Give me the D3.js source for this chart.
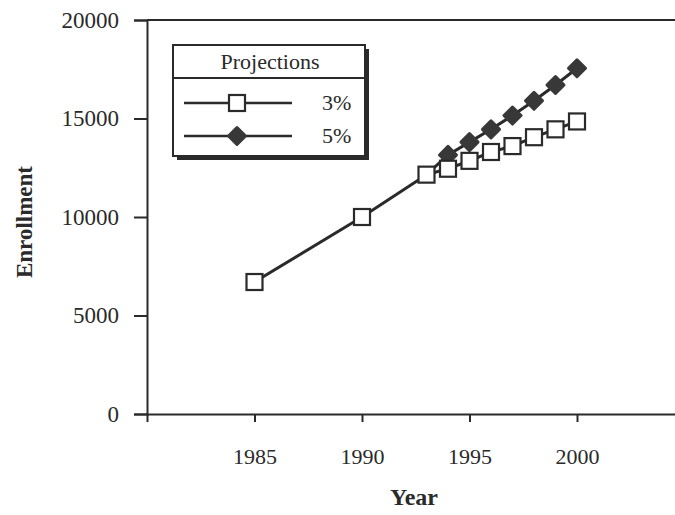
<!DOCTYPE html>
<html>
<head>
<meta charset="utf-8">
<script src="https://cdn.jsdelivr.net/npm/d3@7"></script>
<style>
  html, body { margin: 0; padding: 0; background: #ffffff; }
  svg { display: block; }
  text { font-family: "Liberation Serif", "DejaVu Serif", serif; fill: #2a2a2a; }
</style>
</head>
<body>
<svg id="chart" width="675" height="515"></svg>
<script>
// ---- data ----
const histYears = [1985, 1990, 1993];
const histValues = [6700, 10000, 12150];
const projYears = [1993, 1994, 1995, 1996, 1997, 1998, 1999, 2000];
const proj3 = [12150, 12450, 12850, 13300, 13600, 14050, 14450, 14850];
const proj5 = [12150, 13150, 13800, 14450, 15150, 15900, 16700, 17550];
const xTicks = [1985, 1990, 1995, 2000];
const yTicks = [0, 5000, 10000, 15000, 20000];
const legendTitle = "Projections";
const seriesNames = ["3%", "5%"];

// ---- layout ----
const svg = d3.select("#chart");
const ink = "#2a2a2a";
const x = d3.scaleLinear().domain([1980, 2005]).range([147, 684.5]);
const y = d3.scaleLinear().domain([0, 20000]).range([414, 20]);

// frame top line
svg.append("line")
  .attr("x1", x(1980)).attr("x2", 675)
  .attr("y1", y(20000)).attr("y2", y(20000))
  .attr("stroke", ink).attr("stroke-width", 2);

// y axis
const yAxis = svg.append("g")
  .attr("transform", `translate(${x(1980)},0)`)
  .call(d3.axisLeft(y).tickValues(yTicks).tickSize(13).tickPadding(15).tickFormat(d3.format("d")));
yAxis.select(".domain").attr("stroke", ink).attr("stroke-width", 2);
yAxis.selectAll(".tick line").attr("stroke", ink).attr("stroke-width", 2);
yAxis.selectAll(".tick text")
  .style("font-family", "Liberation Serif").style("font-size", "23px").attr("fill", ink);

// x axis
const xAxis = svg.append("g")
  .attr("transform", `translate(0,${y(0)})`)
  .call(d3.axisBottom(x).tickValues(xTicks).tickSize(8).tickPadding(26).tickFormat(d3.format("d")));
xAxis.select(".domain").attr("stroke", ink).attr("stroke-width", 2);
xAxis.selectAll(".tick line").attr("stroke", ink).attr("stroke-width", 2);
xAxis.selectAll(".tick text")
  .style("font-family", "Liberation Serif").style("font-size", "22px").attr("fill", ink);

// axis titles
svg.append("text")
  .attr("transform", `translate(32,${(y(0) + y(20000)) / 2 + 5}) rotate(-90)`)
  .attr("text-anchor", "middle")
  .style("font-size", "23px").style("font-weight", "bold")
  .text("Enrollment");
svg.append("text")
  .attr("x", 414).attr("y", 505)
  .attr("text-anchor", "middle")
  .style("font-size", "24px").style("font-weight", "bold")
  .text("Year");

// ---- series ----
const line = d3.line().x(d => x(d[0])).y(d => y(d[1]));
const histPts = histYears.map((yr, i) => [yr, histValues[i]]);
const p3 = projYears.map((yr, i) => [yr, proj3[i]]);
const p5 = projYears.map((yr, i) => [yr, proj5[i]]);

const diamond = d3.symbol().type(d3.symbolDiamond2).size(185);

// 5% series (drawn underneath)
svg.append("path").attr("d", line(p5))
  .attr("fill", "none").attr("stroke", ink).attr("stroke-width", 3);
svg.selectAll(".dia").data(p5.slice(1)).enter().append("path")
  .attr("transform", d => `translate(${x(d[0])},${y(d[1])})`)
  .attr("d", diamond)
  .attr("fill", "#383838").attr("stroke", "#383838").attr("stroke-width", 3)
  .attr("stroke-linejoin", "round");

// history + 3% series
svg.append("path").attr("d", line(histPts))
  .attr("fill", "none").attr("stroke", ink).attr("stroke-width", 3);
svg.append("path").attr("d", line(p3))
  .attr("fill", "none").attr("stroke", ink).attr("stroke-width", 3);
const sq = 16;
svg.selectAll(".sq").data(histPts.concat(p3.slice(1))).enter().append("rect")
  .attr("x", d => x(d[0]) - sq / 2).attr("y", d => y(d[1]) - sq / 2)
  .attr("width", sq).attr("height", sq)
  .attr("fill", "#ffffff").attr("stroke", ink).attr("stroke-width", 2.2);

// ---- legend ----
const lg = svg.append("g");
const L = 173, T = 45, W = 192, H = 111;
// shadow
lg.append("rect").attr("x", L + 4).attr("y", T + 4).attr("width", W).attr("height", H)
  .attr("fill", "#2a2a2a");
lg.append("rect").attr("x", L).attr("y", T).attr("width", W).attr("height", H)
  .attr("fill", "#ffffff").attr("stroke", ink).attr("stroke-width", 2);
lg.append("line").attr("x1", L).attr("x2", L + W).attr("y1", 78).attr("y2", 78)
  .attr("stroke", ink).attr("stroke-width", 2);
lg.append("text").attr("x", 270).attr("y", 69).attr("text-anchor", "middle")
  .style("font-size", "22px").text(legendTitle);

const rows = [103, 136];
rows.forEach((ry, i) => {
  lg.append("line").attr("x1", 184).attr("x2", 292).attr("y1", ry).attr("y2", ry)
    .attr("stroke", ink).attr("stroke-width", 2.5);
  if (i === 0) {
    lg.append("rect").attr("x", 237 - sq / 2).attr("y", ry - sq / 2)
      .attr("width", sq).attr("height", sq)
      .attr("fill", "#ffffff").attr("stroke", ink).attr("stroke-width", 2.2);
  } else {
    lg.append("path").attr("transform", `translate(237,${ry})`).attr("d", diamond)
      .attr("fill", "#383838").attr("stroke", "#383838").attr("stroke-width", 3)
      .attr("stroke-linejoin", "round");
  }
  lg.append("text").attr("x", 322).attr("y", ry + 7)
    .style("font-size", "22px").text(seriesNames[i]);
});
</script>
</body>
</html>
